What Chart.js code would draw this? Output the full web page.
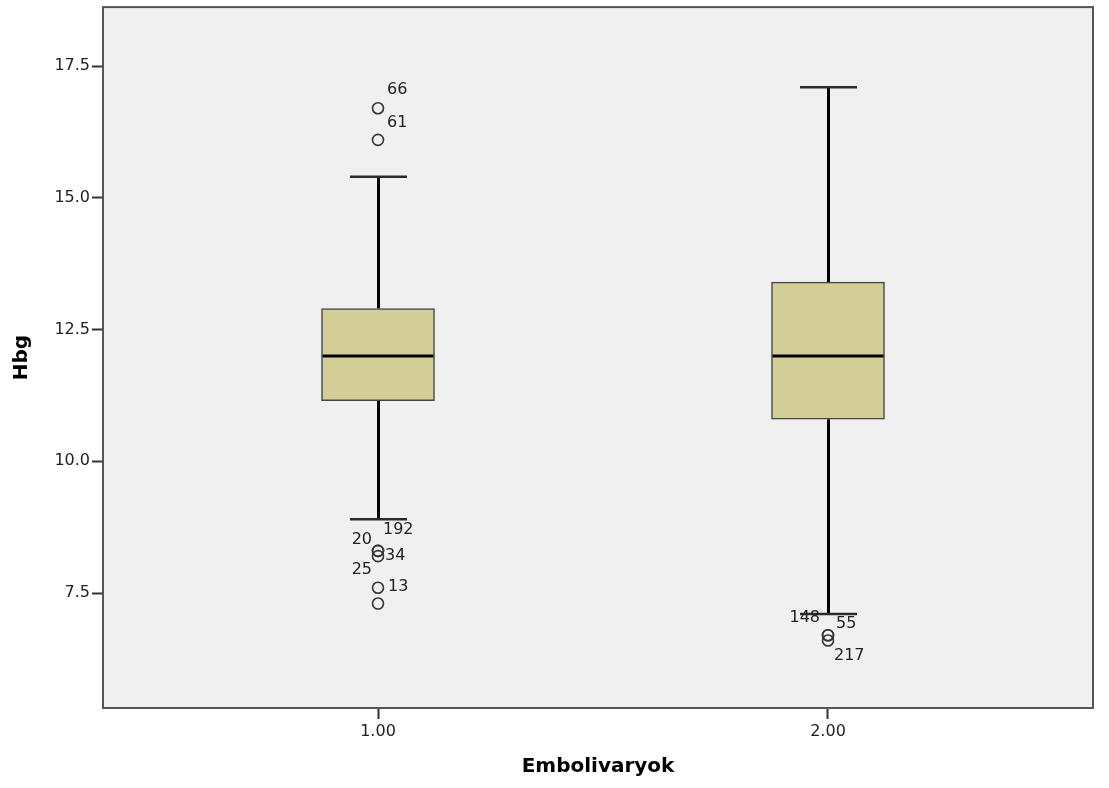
<!DOCTYPE html>
<html>
<head>
<meta charset="utf-8">
<script src="https://cdn.jsdelivr.net/npm/chart.js@4/dist/chart.umd.min.js"></script>
<style>
  body { margin: 0; background: #fff; }
  #wrap { width: 1109px; height: 788px; }
</style>
</head>
<body>
<div id="wrap"><canvas id="chart"></canvas></div>
<script>
// Box plot data
const categories = ['1.00', '2.00'];
const whiskerLow = [8.9, 7.1];
const q1 = [11.15, 10.8];
const medians = [12.0, 12.0];
const q3 = [12.9, 13.4];
const whiskerHigh = [15.4, 17.1];

// outliers: group index (1-based), value, case id
const outlierGroup = [1, 1, 1, 1, 1, 1, 1, 2, 2, 2];
const outlierValues = [16.7, 16.1, 8.3, 8.3, 8.2, 7.6, 7.3, 6.7, 6.7, 6.6];
const outlierIds = ['66', '61', '192', '20', '34', '13', '25', '148', '55', '217'];

const yTicks = [7.5, 10.0, 12.5, 15.0, 17.5];

// label placement next to each outlier circle (px offset, alignment)
const labelOffsets = [
    [9, -18, 'left'], [9, -17, 'left'], [5, -21, 'left'], [-6, -11, 'right'],
    [7, 0, 'left'], [10, -1, 'left'], [-6, -34, 'right'],
    [-8, -17, 'right'], [8, -11, 'left'], [6, 15, 'left']
];

const FONT = 'DejaVu Sans';
const BOX_W = 113;
const CAP_W = 57;

const boxPlugin = {
    id: 'boxParts',
    beforeDraw(chart) {
        const { ctx, chartArea: a } = chart;
        ctx.save();
        ctx.fillStyle = '#f0f0f0';
        ctx.fillRect(a.left, a.top, a.right - a.left, a.bottom - a.top);
        ctx.restore();
    },
    beforeDatasetsDraw(chart) {
        const { ctx } = chart;
        const xs = chart.scales.x, ys = chart.scales.y;
        ctx.save();
        categories.forEach((c, i) => {
            const x = Math.round(xs.getPixelForValue(i + 1)) + 0.5;
            // whiskers
            ctx.strokeStyle = '#000';
            ctx.lineWidth = 3;
            ctx.beginPath();
            ctx.moveTo(x, ys.getPixelForValue(whiskerHigh[i]));
            ctx.lineTo(x, ys.getPixelForValue(q3[i]));
            ctx.moveTo(x, ys.getPixelForValue(q1[i]));
            ctx.lineTo(x, ys.getPixelForValue(whiskerLow[i]));
            ctx.stroke();
            // caps
            ctx.strokeStyle = '#2a2a2a';
            ctx.lineWidth = 2.5;
            ctx.beginPath();
            [whiskerHigh[i], whiskerLow[i]].forEach(v => {
                const y = ys.getPixelForValue(v);
                ctx.moveTo(x - CAP_W / 2, y);
                ctx.lineTo(x + CAP_W / 2, y);
            });
            ctx.stroke();
        });
        ctx.restore();
    },
    afterDatasetsDraw(chart) {
        const { ctx } = chart;
        const xs = chart.scales.x, ys = chart.scales.y;
        ctx.save();
        // medians
        ctx.strokeStyle = '#000';
        ctx.lineWidth = 3;
        categories.forEach((c, i) => {
            const x = xs.getPixelForValue(i + 1);
            const y = ys.getPixelForValue(medians[i]);
            ctx.beginPath();
            ctx.moveTo(x - BOX_W / 2 + 1, y);
            ctx.lineTo(x + BOX_W / 2 - 1, y);
            ctx.stroke();
        });
        // outlier case labels
        ctx.fillStyle = '#222';
        ctx.font = '16px "' + FONT + '"';
        ctx.textBaseline = 'middle';
        outlierIds.forEach((id, k) => {
            const x = xs.getPixelForValue(outlierGroup[k]);
            const y = ys.getPixelForValue(outlierValues[k]);
            const off = labelOffsets[k];
            ctx.textAlign = off[2];
            ctx.fillText(id, x + off[0], y + off[1]);
        });
        ctx.restore();
    },
    afterDraw(chart) {
        const { ctx, chartArea: a } = chart;
        ctx.save();
        ctx.strokeStyle = '#555';
        ctx.lineWidth = 2;
        ctx.strokeRect(a.left, a.top, a.right - a.left, a.bottom - a.top);
        ctx.restore();
    }
};

const ctx = document.getElementById('chart').getContext('2d');
new Chart(ctx, {
    type: 'bar',
    data: {
        datasets: [{
            type: 'bar',
            data: categories.map((c, i) => ({ x: i + 1, y: [q1[i], q3[i]] })),
            backgroundColor: '#d3ce98',
            borderColor: '#444',
            borderWidth: 1.5,
            borderSkipped: false,
            barThickness: BOX_W,
            grouped: false
        }, {
            type: 'scatter',
            data: outlierValues.map((v, k) => ({ x: outlierGroup[k], y: v })),
            pointStyle: 'circle',
            pointRadius: 5.5,
            pointBackgroundColor: 'rgba(0,0,0,0)',
            pointBorderColor: '#333',
            pointBorderWidth: 1.6
        }]
    },
    options: {
        responsive: true,
        maintainAspectRatio: false,
        animation: false,
        layout: { padding: { top: 3, right: 16, left: 0, bottom: 0 } },
        plugins: { legend: { display: false }, tooltip: { enabled: false } },
        scales: {
            x: {
                type: 'linear',
                offset: false,
                min: 1 - 275 / 450,
                max: 2 + 265 / 450,
                afterBuildTicks: s => { s.ticks = categories.map((c, i) => ({ value: i + 1 })); },
                afterFit: s => { s.height = 80; s.paddingLeft = 0; s.paddingRight = 0; },
                ticks: {
                    callback: (v, i) => categories[i],
                    color: '#222',
                    font: { family: FONT, size: 16 },
                    padding: 3,
                    maxRotation: 0
                },
                grid: { offset: false, drawOnChartArea: false, tickLength: 11, tickColor: '#333', tickWidth: 2 },
                border: { display: false },
                title: {
                    display: true,
                    text: 'Embolivaryok',
                    color: '#000',
                    font: { family: FONT, size: 20, weight: 'bold' },
                    padding: { top: 0, bottom: 9 }
                }
            },
            y: {
                min: 5.318,
                max: 18.62,
                afterBuildTicks: s => { s.ticks = yTicks.map(v => ({ value: v })); },
                afterFit: s => { s.width = 103; s.paddingTop = 0; s.paddingBottom = 0; },
                ticks: {
                    callback: v => v.toFixed(1),
                    color: '#222',
                    font: { family: FONT, size: 16 },
                    padding: 2
                },
                grid: { drawOnChartArea: false, tickLength: 11, tickColor: '#333', tickWidth: 2 },
                border: { display: false },
                title: {
                    display: true,
                    text: 'Hbg',
                    color: '#000',
                    font: { family: FONT, size: 20, weight: 'bold' },
                    padding: { top: 10, bottom: 0 }
                }
            }
        }
    },
    plugins: [boxPlugin]
});
</script>
</body>
</html>
